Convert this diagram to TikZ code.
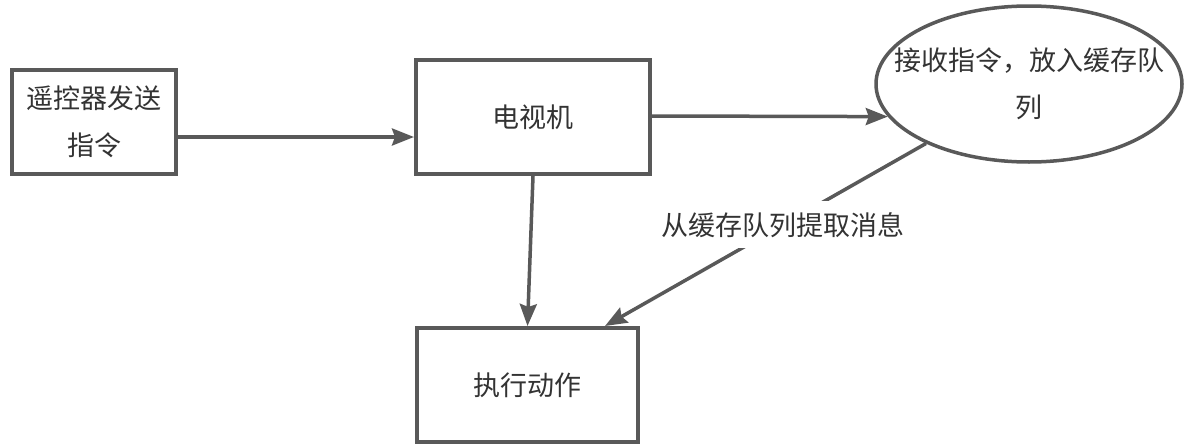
\documentclass[tikz,border=0pt]{standalone}
\usepackage{fontspec}
\newfontfamily\cjk{Noto Sans CJK SC}
\usetikzlibrary{arrows.meta,shapes.geometric}
\definecolor{ln}{HTML}{595959}
\definecolor{tx}{HTML}{333333}
\tikzset{
  box/.style={draw=ln, line width=4pt, rectangle, inner sep=0pt, text=tx, align=center},
  oval/.style={draw=ln, line width=3.5pt, ellipse, inner sep=0pt},
  txt/.style={text=tx, align=center, inner sep=0pt},
  conn/.style={draw=ln, line width=3.5pt, -{Stealth[length=22pt,width=17pt,inset=3pt]}},
  lbl/.style={fill=white, text=tx, inner xsep=2pt, inner ysep=11pt}
}
\begin{document}
\begin{tikzpicture}[x=1pt,y=-1pt, font=\cjk\fontsize{27}{47}\selectfont]
\useasboundingbox[fill=white] (0,0) rectangle (1200,447);
\node[box, minimum width=164pt, minimum height=104pt] (r) at (94,122) {遥控器发送\\指令};
\node[box, minimum width=234pt, minimum height=114pt] (tv) at (533,117) {电视机};
\node[oval, minimum width=306pt, minimum height=156pt] (ell) at (1029,84) {};
\node[txt] (elltxt) at (ell.center) {接收指令，放入缓存队\\列};
\node[box, minimum width=221pt, minimum height=114pt] (act) at (527.5,385) {执行动作};
\draw[conn] (r.east |- 0,137) -- (tv.west |- 0,137);
\draw[conn] (tv.east |- 0,116) -- (ell.193);
\draw[conn] (tv.south) -- (act.north);
\draw[conn] (ell.210) -- node[lbl, pos=0.445] (lab) {从缓存队列提取消息} (act.north -| 605,0);
\end{tikzpicture}
\end{document}
